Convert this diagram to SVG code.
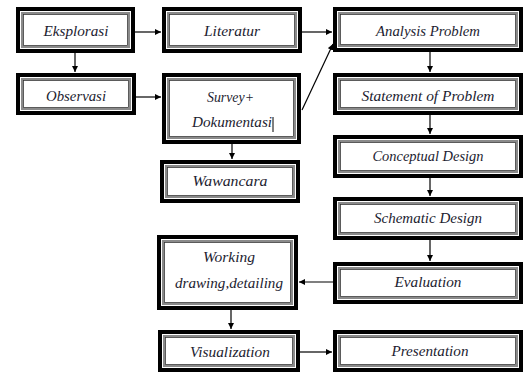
<svg xmlns="http://www.w3.org/2000/svg" width="525" height="373" viewBox="0 0 525 373">
<defs>
<style>
.o{fill:#fff;stroke:#000;stroke-width:4}
.g{fill:none;stroke:#8a8a8a;stroke-width:2}
.i{fill:none;stroke:#333;stroke-width:0.8}
.t{font-family:"Liberation Serif",serif;font-style:italic;font-size:14.5px;fill:#1c1c30;text-anchor:middle}
.c{fill:none;stroke:#000;stroke-width:1.2}
</style>
<marker id="a" viewBox="0 0 10 10" refX="10" refY="5" markerWidth="6" markerHeight="6" markerUnits="userSpaceOnUse" orient="auto"><path d="M0,0L10,5L0,10z" fill="#000"/></marker>
</defs>
<g id="connectors">
<path class="c" d="M135,32H161" marker-end="url(#a)"/>
<path class="c" d="M75,53V72" marker-end="url(#a)"/>
<path class="c" d="M136,97H161" marker-end="url(#a)"/>
<path class="c" d="M302,32H332" marker-end="url(#a)"/>
<path class="c" d="M302,110L333,44" marker-end="url(#a)"/>
<path class="c" d="M232,144V159" marker-end="url(#a)"/>
<path class="c" d="M430,52V72" marker-end="url(#a)"/>
<path class="c" d="M430,113V134" marker-end="url(#a)"/>
<path class="c" d="M430,178V196" marker-end="url(#a)"/>
<path class="c" d="M430,240V261" marker-end="url(#a)"/>
<path class="c" d="M333,282H299" marker-end="url(#a)"/>
<path class="c" d="M231,310V329" marker-end="url(#a)"/>
<path class="c" d="M300,352H332" marker-end="url(#a)"/>
</g>
<g id="eksplorasi"><rect class="o" x="18" y="9" width="115" height="42"/><rect class="g" x="22" y="13" width="107" height="34"/><rect class="i" x="23.5" y="14.5" width="104" height="31"/><text class="t" x="76" y="36" textLength="65" lengthAdjust="spacingAndGlyphs">Eksplorasi</text></g>
<g id="literatur"><rect class="o" x="164" y="9" width="136" height="42"/><rect class="g" x="168" y="13" width="128" height="34"/><rect class="i" x="169.5" y="14.5" width="125" height="31"/><text class="t" x="232" y="36" textLength="56" lengthAdjust="spacingAndGlyphs">Literatur</text></g>
<g id="observasi"><rect class="o" x="18" y="75" width="116" height="38"/><rect class="g" x="22" y="79" width="108" height="30"/><rect class="i" x="23.5" y="80.5" width="105" height="27"/><text class="t" x="76" y="101" textLength="60" lengthAdjust="spacingAndGlyphs">Observasi</text></g>
<g id="survey"><rect class="o" x="164" y="75" width="135" height="67"/><rect class="g" x="168" y="79" width="127" height="59"/><rect class="i" x="169.5" y="80.5" width="124" height="56"/><text class="t" x="230.5" y="102" textLength="47" lengthAdjust="spacingAndGlyphs">Survey+</text><text class="t" x="232" y="127" textLength="80" lengthAdjust="spacingAndGlyphs">Dokumentasi</text><path d="M273,117V132" stroke="#000" stroke-width="1"/></g>
<g id="wawancara"><rect class="o" x="162" y="162" width="136" height="39"/><rect class="g" x="166" y="166" width="128" height="31"/><rect class="i" x="167.5" y="167.5" width="125" height="28"/><text class="t" x="230" y="186" textLength="75" lengthAdjust="spacingAndGlyphs">Wawancara</text></g>
<g id="analysis"><rect class="o" x="335" y="9" width="186" height="41"/><rect class="g" x="339" y="13" width="178" height="33"/><rect class="i" x="340.5" y="14.5" width="175" height="30"/><text class="t" x="428" y="36" textLength="104" lengthAdjust="spacingAndGlyphs">Analysis Problem</text></g>
<g id="statement"><rect class="o" x="335" y="75" width="186" height="38"/><rect class="g" x="339" y="79" width="178" height="30"/><rect class="i" x="340.5" y="80.5" width="175" height="27"/><text class="t" x="428" y="101" textLength="133" lengthAdjust="spacingAndGlyphs">Statement of Problem</text></g>
<g id="conceptual"><rect class="o" x="335" y="137" width="186" height="39"/><rect class="g" x="339" y="141" width="178" height="31"/><rect class="i" x="340.5" y="142.5" width="175" height="28"/><text class="t" x="428" y="161" textLength="111" lengthAdjust="spacingAndGlyphs">Conceptual Design</text></g>
<g id="schematic"><rect class="o" x="335" y="199" width="186" height="39"/><rect class="g" x="339" y="203" width="178" height="31"/><rect class="i" x="340.5" y="204.5" width="175" height="28"/><text class="t" x="428" y="223" textLength="108" lengthAdjust="spacingAndGlyphs">Schematic Design</text></g>
<g id="evaluation"><rect class="o" x="335" y="264" width="186" height="38"/><rect class="g" x="339" y="268" width="178" height="30"/><rect class="i" x="340.5" y="269.5" width="175" height="27"/><text class="t" x="428" y="287" textLength="67" lengthAdjust="spacingAndGlyphs">Evaluation</text></g>
<g id="working"><rect class="o" x="159" y="237" width="137" height="71"/><rect class="g" x="163" y="241" width="129" height="63"/><rect class="i" x="164.5" y="242.5" width="126" height="60"/><text class="t" x="229" y="262" textLength="52" lengthAdjust="spacingAndGlyphs">Working</text><text class="t" x="229" y="288" textLength="108" lengthAdjust="spacingAndGlyphs">drawing,detailing</text></g>
<g id="visualization"><rect class="o" x="160" y="332" width="138" height="38"/><rect class="g" x="164" y="336" width="130" height="30"/><rect class="i" x="165.5" y="337.5" width="127" height="27"/><text class="t" x="230" y="357" textLength="80" lengthAdjust="spacingAndGlyphs">Visualization</text></g>
<g id="presentation"><rect class="o" x="335" y="332" width="186" height="38"/><rect class="g" x="339" y="336" width="178" height="30"/><rect class="i" x="340.5" y="337.5" width="175" height="27"/><text class="t" x="430" y="356" textLength="77" lengthAdjust="spacingAndGlyphs">Presentation</text></g>
</svg>
